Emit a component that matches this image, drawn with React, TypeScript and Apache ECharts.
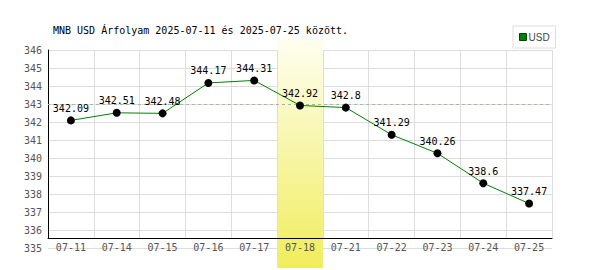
import React, { useEffect, useRef } from "react";
import * as echarts from "echarts";

const categories = ["07-11", "07-14", "07-15", "07-16", "07-17", "07-18", "07-21", "07-22", "07-23", "07-24", "07-25"];
const usdValues = [342.09, 342.51, 342.48, 344.17, 344.31, 342.92, 342.8, 341.29, 340.26, 338.6, 337.47];
const highlightIndex = 5;
const refLineValue = 343;
const yMin = 335;
const yMax = 346;
const titleText = "MNB USD Árfolyam 2025-07-11 és 2025-07-25 között.";
const seriesName = "USD";

const MONO = "DejaVu Sans Mono";

export default function App() {
  const ref = useRef<HTMLDivElement>(null);
  useEffect(() => {
    document.body.style.margin = "0";
    const chart = echarts.init(ref.current!, null, { renderer: "svg" });
    const bandData = categories.map((_, i) => (i === highlightIndex ? 1 : null));
    chart.setOption({
      animation: false,
      backgroundColor: "#fff",
      title: {
        text: titleText,
        left: 48,
        top: 20,
        textStyle: { fontFamily: MONO, fontSize: 10, fontWeight: "normal", color: "#000" },
      },
      legend: {
        data: [
          {
            name: seriesName,
            icon: "rect",
            itemStyle: { color: "#008000", borderColor: "#004400", borderWidth: 1 },
          },
        ],
        left: 513,
        top: 26,
        padding: [6, 6, 6, 6],
        itemWidth: 7,
        itemHeight: 7,
        itemGap: 2,
        borderColor: "#dddddd",
        borderWidth: 1,
        textStyle: { fontFamily: "Liberation Sans", fontSize: 10, color: "#444", padding: [0, 0, 0, -3] },
      },
      grid: [
        { left: 48, right: 48, top: 50, height: 198 },
        { left: 48, right: 48, top: 50, height: 188 },
        { left: 48, right: 48, top: 39, height: 229 },
      ],
      xAxis: [
        { gridIndex: 0, type: "category", data: categories, show: false },
        {
          gridIndex: 1,
          type: "category",
          data: categories,
          z: 3,
          axisLine: { show: true, lineStyle: { color: "#000", width: 1 } },
          axisTick: { show: false },
          axisLabel: { margin: 4, fontFamily: MONO, fontSize: 10, color: "#555" },
          splitLine: { show: true, lineStyle: { color: "#dddddd", width: 1 } },
        },
        { gridIndex: 2, type: "category", data: categories, show: false },
      ],
      yAxis: [
        {
          gridIndex: 0,
          type: "value",
          min: yMin,
          max: yMax,
          interval: 1,
          axisLine: { show: false },
          axisTick: { show: false },
          axisLabel: { margin: 6, fontFamily: MONO, fontSize: 10, color: "#555" },
          splitLine: { show: true, lineStyle: { color: "#dddddd", width: 1 } },
        },
        {
          gridIndex: 1,
          type: "value",
          min: 0,
          max: 1,
          z: 3,
          axisLine: { show: true, lineStyle: { color: "#000", width: 1 } },
          axisTick: { show: false },
          axisLabel: { show: false },
          splitLine: { show: false },
        },
        { gridIndex: 2, type: "value", min: 0, max: 1, show: false },
      ],
      series: [
        {
          type: "bar",
          xAxisIndex: 2,
          yAxisIndex: 2,
          data: bandData,
          barWidth: "100%",
          barGap: "0%",
          z: 1,
          silent: true,
          itemStyle: {
            color: new echarts.graphic.LinearGradient(0, 0, 0, 1, [
              { offset: 0, color: "#fefef0" },
              { offset: 1, color: "#f0ed5c" },
            ]),
          },
        },
        {
          name: seriesName,
          type: "line",
          xAxisIndex: 0,
          yAxisIndex: 0,
          data: usdValues,
          z: 5,
          color: "#008000",
          lineStyle: { color: "#008000", width: 1 },
          symbol: "circle",
          symbolSize: 8,
          itemStyle: { color: "#000" },
          label: {
            show: true,
            position: "top",
            distance: 3,
            fontFamily: MONO,
            fontSize: 10,
            color: "#000",
          },
          markLine: {
            silent: true,
            symbol: "none",
            label: { show: false },
            lineStyle: { color: "#a8b8a8", type: [3, 3], width: 1 },
            data: [{ yAxis: refLineValue }],
          },
        },
      ],
    });
    return () => chart.dispose();
  }, []);
  return <div ref={ref} style={{ width: 600, height: 270 }} />;
}
